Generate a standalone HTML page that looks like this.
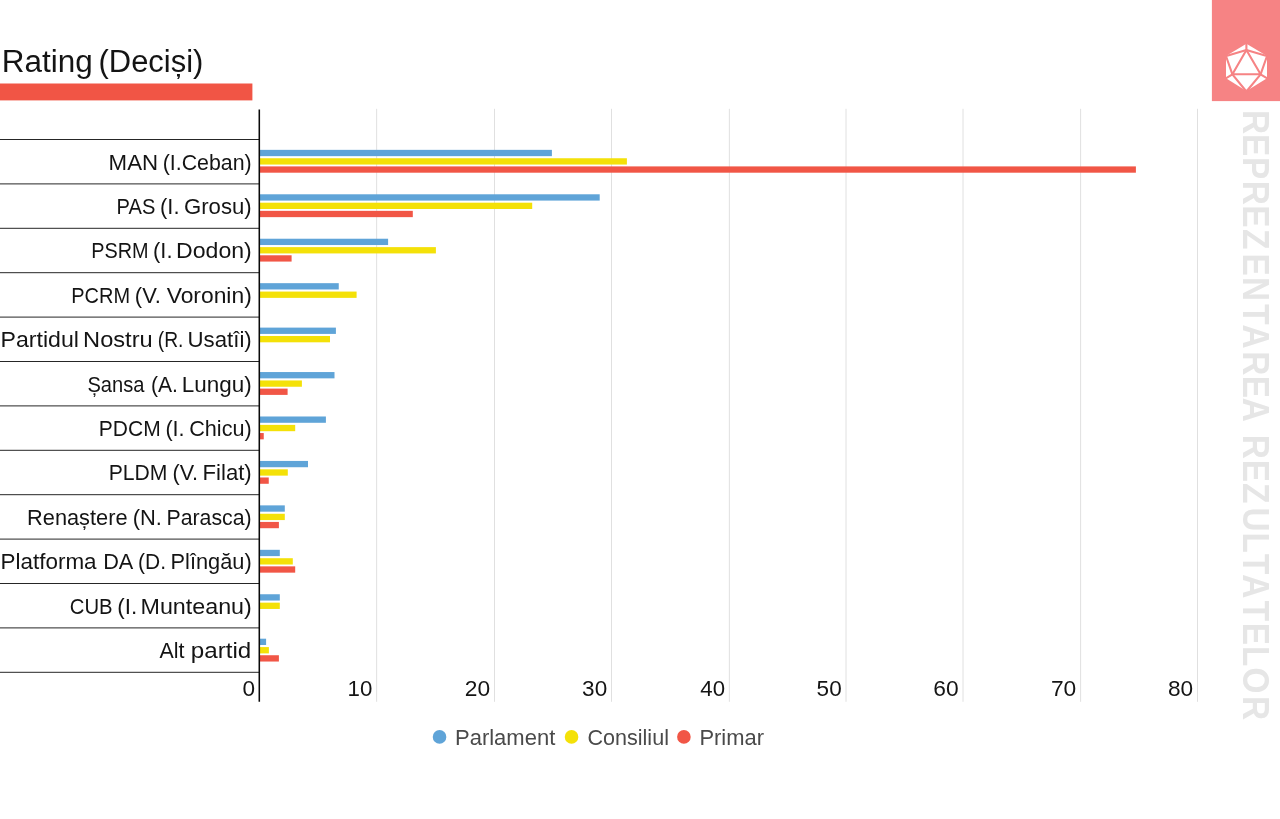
<!DOCTYPE html>
<html lang="ro">
<head>
<meta charset="utf-8">
<title>Rating (Deciși)</title>
<style>
html,body{margin:0;padding:0;background:#fff;}
body{width:1280px;height:819px;overflow:hidden;font-family:"Liberation Sans",sans-serif;}
svg{display:block;}
text{font-family:"Liberation Sans",sans-serif;}
</style>
</head>
<body>
<svg width="1280" height="819" viewBox="0 0 1280 819">
<rect x="0" y="0" width="1280" height="819" fill="#ffffff"/>
<rect x="0" y="83.5" width="252.4" height="16.9" fill="#F15545"/>
<rect x="1211.9" y="0" width="68.1" height="101.1" fill="#F68384"/>
<g>
<polygon points="1246.4,43.8 1267,56 1267,78.2 1246.4,90.9 1226,78.2 1226,56" fill="#ffffff"/>
<g stroke="#F68384" stroke-width="2.1" fill="none" stroke-linecap="butt" stroke-linejoin="round">
<polygon points="1246.4,50 1260.6,74.3 1232.4,74.3"/>
<path d="M1246.4,50 L1246.4,43 M1246.4,50 L1225.4,56.2 M1246.4,50 L1267.6,56.2 M1232.4,74.3 L1225.8,55.5 M1232.4,74.3 L1225.4,78.6 M1232.4,74.3 L1246.4,91.5 M1260.6,74.3 L1267.2,55.5 M1260.6,74.3 L1267.6,78.6 M1260.6,74.3 L1246.4,91.5"/>
</g>
</g>
<text transform="translate(1242.5,0) rotate(90) scale(0.92,1)" x="119.7 145.7 170.7 196.6 223.1 248.9 275.5 301.2 330.8 352.6 381.8 408.3 432.4 462.0 472.5 499.6 525.1 551.6 578.8 602.1 624.1 653.0 676.9 702.1 725.6 756.5" y="0" font-size="36.3" font-weight="bold" fill="#e6e6e6">REPREZENTAREA REZULTATELOR</text>
<line x1="376.65" y1="108.8" x2="376.65" y2="701.8" stroke="#e0e0e0" stroke-width="1"/>
<line x1="494.50" y1="108.8" x2="494.50" y2="701.8" stroke="#e0e0e0" stroke-width="1"/>
<line x1="611.50" y1="108.8" x2="611.50" y2="701.8" stroke="#e0e0e0" stroke-width="1"/>
<line x1="729.35" y1="108.8" x2="729.35" y2="701.8" stroke="#e0e0e0" stroke-width="1"/>
<line x1="846.00" y1="108.8" x2="846.00" y2="701.8" stroke="#e0e0e0" stroke-width="1"/>
<line x1="963.00" y1="108.8" x2="963.00" y2="701.8" stroke="#e0e0e0" stroke-width="1"/>
<line x1="1080.60" y1="108.8" x2="1080.60" y2="701.8" stroke="#e0e0e0" stroke-width="1"/>
<line x1="1197.50" y1="108.8" x2="1197.50" y2="701.8" stroke="#e0e0e0" stroke-width="1"/>
<line x1="0" y1="139.50" x2="259.3" y2="139.50" stroke="#262626" stroke-width="1"/>
<line x1="0" y1="183.90" x2="259.3" y2="183.90" stroke="#262626" stroke-width="1"/>
<line x1="0" y1="228.30" x2="259.3" y2="228.30" stroke="#262626" stroke-width="1"/>
<line x1="0" y1="272.70" x2="259.3" y2="272.70" stroke="#262626" stroke-width="1"/>
<line x1="0" y1="317.10" x2="259.3" y2="317.10" stroke="#262626" stroke-width="1"/>
<line x1="0" y1="361.50" x2="259.3" y2="361.50" stroke="#262626" stroke-width="1"/>
<line x1="0" y1="405.90" x2="259.3" y2="405.90" stroke="#262626" stroke-width="1"/>
<line x1="0" y1="450.30" x2="259.3" y2="450.30" stroke="#262626" stroke-width="1"/>
<line x1="0" y1="494.70" x2="259.3" y2="494.70" stroke="#262626" stroke-width="1"/>
<line x1="0" y1="539.10" x2="259.3" y2="539.10" stroke="#262626" stroke-width="1"/>
<line x1="0" y1="583.50" x2="259.3" y2="583.50" stroke="#262626" stroke-width="1"/>
<line x1="0" y1="627.90" x2="259.3" y2="627.90" stroke="#262626" stroke-width="1"/>
<line x1="0" y1="672.30" x2="259.3" y2="672.30" stroke="#262626" stroke-width="1"/>
<rect x="260" y="149.85" width="291.90" height="6.3" fill="#5FA4D8"/>
<rect x="260" y="158.25" width="366.90" height="6.3" fill="#F4E108"/>
<rect x="260" y="166.40" width="875.90" height="6.3" fill="#F15646"/>
<rect x="260" y="194.29" width="339.70" height="6.3" fill="#5FA4D8"/>
<rect x="260" y="202.69" width="272.20" height="6.3" fill="#F4E108"/>
<rect x="260" y="210.84" width="152.80" height="6.3" fill="#F15646"/>
<rect x="260" y="238.73" width="128.10" height="6.3" fill="#5FA4D8"/>
<rect x="260" y="247.13" width="175.90" height="6.3" fill="#F4E108"/>
<rect x="260" y="255.28" width="31.60" height="6.3" fill="#F15646"/>
<rect x="260" y="283.17" width="78.75" height="6.3" fill="#5FA4D8"/>
<rect x="260" y="291.57" width="96.60" height="6.3" fill="#F4E108"/>
<rect x="260" y="327.61" width="75.90" height="6.3" fill="#5FA4D8"/>
<rect x="260" y="336.01" width="70.00" height="6.3" fill="#F4E108"/>
<rect x="260" y="372.05" width="74.50" height="6.3" fill="#5FA4D8"/>
<rect x="260" y="380.45" width="41.90" height="6.3" fill="#F4E108"/>
<rect x="260" y="388.60" width="27.60" height="6.3" fill="#F15646"/>
<rect x="260" y="416.49" width="65.90" height="6.3" fill="#5FA4D8"/>
<rect x="260" y="424.89" width="35.20" height="6.3" fill="#F4E108"/>
<rect x="260" y="433.04" width="3.75" height="6.3" fill="#F15646"/>
<rect x="260" y="460.93" width="48.00" height="6.3" fill="#5FA4D8"/>
<rect x="260" y="469.33" width="27.80" height="6.3" fill="#F4E108"/>
<rect x="260" y="477.48" width="8.75" height="6.3" fill="#F15646"/>
<rect x="260" y="505.37" width="24.80" height="6.3" fill="#5FA4D8"/>
<rect x="260" y="513.77" width="24.80" height="6.3" fill="#F4E108"/>
<rect x="260" y="521.92" width="18.90" height="6.3" fill="#F15646"/>
<rect x="260" y="549.81" width="19.80" height="6.3" fill="#5FA4D8"/>
<rect x="260" y="558.21" width="32.80" height="6.3" fill="#F4E108"/>
<rect x="260" y="566.36" width="35.20" height="6.3" fill="#F15646"/>
<rect x="260" y="594.25" width="19.80" height="6.3" fill="#5FA4D8"/>
<rect x="260" y="602.65" width="19.80" height="6.3" fill="#F4E108"/>
<rect x="260" y="638.69" width="6.10" height="6.3" fill="#5FA4D8"/>
<rect x="260" y="647.09" width="8.90" height="6.3" fill="#F4E108"/>
<rect x="260" y="655.24" width="18.90" height="6.3" fill="#F15646"/>
<line x1="259.3" y1="109.4" x2="259.3" y2="701.8" stroke="#0a0a0a" stroke-width="1.55"/>
<circle cx="439.55" cy="736.9" r="6.8" fill="#5FA4D8"/>
<circle cx="571.55" cy="736.9" r="6.8" fill="#F4E108"/>
<circle cx="683.9" cy="736.9" r="6.8" fill="#F15646"/>
<text y="71.80" font-size="30.6" fill="#141414"><tspan x="1.85" textLength="90.91" lengthAdjust="spacingAndGlyphs">Rating</tspan> <tspan x="98.49" textLength="104.91" lengthAdjust="spacingAndGlyphs">(Deciși)</tspan></text>
<text y="169.65" font-size="22.0" fill="#141414"><tspan x="108.60" textLength="49.46" lengthAdjust="spacingAndGlyphs">MAN</tspan> <tspan x="162.76" textLength="88.92" lengthAdjust="spacingAndGlyphs">(I.Ceban)</tspan></text>
<text y="214.05" font-size="22.0" fill="#141414"><tspan x="116.62" textLength="38.69" lengthAdjust="spacingAndGlyphs">PAS</tspan> <tspan x="160.05" textLength="19.46" lengthAdjust="spacingAndGlyphs">(I.</tspan> <tspan x="184.03" textLength="67.71" lengthAdjust="spacingAndGlyphs">Grosu)</tspan></text>
<text y="258.45" font-size="22.0" fill="#141414"><tspan x="91.25" textLength="57.33" lengthAdjust="spacingAndGlyphs">PSRM</tspan> <tspan x="153.03" textLength="19.46" lengthAdjust="spacingAndGlyphs">(I.</tspan> <tspan x="176.02" textLength="75.77" lengthAdjust="spacingAndGlyphs">Dodon)</tspan></text>
<text y="302.85" font-size="22.0" fill="#141414"><tspan x="71.22" textLength="58.80" lengthAdjust="spacingAndGlyphs">PCRM</tspan> <tspan x="134.86" textLength="26.07" lengthAdjust="spacingAndGlyphs">(V.</tspan> <tspan x="166.67" textLength="85.11" lengthAdjust="spacingAndGlyphs">Voronin)</tspan></text>
<text y="347.25" font-size="22.0" fill="#141414"><tspan x="0.58" textLength="78.36" lengthAdjust="spacingAndGlyphs">Partidul</tspan> <tspan x="83.10" textLength="69.55" lengthAdjust="spacingAndGlyphs">Nostru</tspan> <tspan x="157.73" textLength="25.65" lengthAdjust="spacingAndGlyphs">(R.</tspan> <tspan x="187.55" textLength="64.19" lengthAdjust="spacingAndGlyphs">Usatîi)</tspan></text>
<text y="391.65" font-size="22.0" fill="#141414"><tspan x="87.42" textLength="57.05" lengthAdjust="spacingAndGlyphs">Șansa</tspan> <tspan x="151.01" textLength="26.97" lengthAdjust="spacingAndGlyphs">(A.</tspan> <tspan x="181.85" textLength="69.90" lengthAdjust="spacingAndGlyphs">Lungu)</tspan></text>
<text y="436.05" font-size="22.0" fill="#141414"><tspan x="98.79" textLength="61.86" lengthAdjust="spacingAndGlyphs">PDCM</tspan> <tspan x="165.43" textLength="19.21" lengthAdjust="spacingAndGlyphs">(I.</tspan> <tspan x="189.20" textLength="62.50" lengthAdjust="spacingAndGlyphs">Chicu)</tspan></text>
<text y="480.45" font-size="22.0" fill="#141414"><tspan x="108.69" textLength="58.79" lengthAdjust="spacingAndGlyphs">PLDM</tspan> <tspan x="172.45" textLength="25.60" lengthAdjust="spacingAndGlyphs">(V.</tspan> <tspan x="202.52" textLength="49.22" lengthAdjust="spacingAndGlyphs">Filat)</tspan></text>
<text y="524.85" font-size="22.0" fill="#141414"><tspan x="27.11" textLength="100.38" lengthAdjust="spacingAndGlyphs">Renaștere</tspan> <tspan x="132.80" textLength="29.15" lengthAdjust="spacingAndGlyphs">(N.</tspan> <tspan x="166.47" textLength="85.21" lengthAdjust="spacingAndGlyphs">Parasca)</tspan></text>
<text y="569.25" font-size="22.0" fill="#141414"><tspan x="0.64" textLength="95.96" lengthAdjust="spacingAndGlyphs">Platforma</tspan> <tspan x="103.14" textLength="29.00" lengthAdjust="spacingAndGlyphs">DA</tspan> <tspan x="138.02" textLength="27.99" lengthAdjust="spacingAndGlyphs">(D.</tspan> <tspan x="170.56" textLength="81.16" lengthAdjust="spacingAndGlyphs">Plîngău)</tspan></text>
<text y="613.65" font-size="22.0" fill="#141414"><tspan x="69.77" textLength="42.76" lengthAdjust="spacingAndGlyphs">CUB</tspan> <tspan x="117.29" textLength="19.95" lengthAdjust="spacingAndGlyphs">(I.</tspan> <tspan x="140.51" textLength="111.30" lengthAdjust="spacingAndGlyphs">Munteanu)</tspan></text>
<text y="658.05" font-size="22.0" fill="#141414"><tspan x="159.50" textLength="24.97" lengthAdjust="spacingAndGlyphs">Alt</tspan> <tspan x="190.80" textLength="60.50" lengthAdjust="spacingAndGlyphs">partid</tspan></text>
<text y="695.70" font-size="21.4" fill="#141414"><tspan x="242.62" textLength="12.57" lengthAdjust="spacingAndGlyphs">0</tspan></text>
<text y="695.70" font-size="21.4" fill="#141414"><tspan x="347.55" textLength="24.77" lengthAdjust="spacingAndGlyphs">10</tspan></text>
<text y="695.70" font-size="21.4" fill="#141414"><tspan x="464.85" textLength="25.34" lengthAdjust="spacingAndGlyphs">20</tspan></text>
<text y="695.70" font-size="21.4" fill="#141414"><tspan x="582.14" textLength="25.04" lengthAdjust="spacingAndGlyphs">30</tspan></text>
<text y="695.70" font-size="21.4" fill="#141414"><tspan x="700.34" textLength="24.68" lengthAdjust="spacingAndGlyphs">40</tspan></text>
<text y="695.70" font-size="21.4" fill="#141414"><tspan x="816.60" textLength="25.08" lengthAdjust="spacingAndGlyphs">50</tspan></text>
<text y="695.70" font-size="21.4" fill="#141414"><tspan x="933.34" textLength="25.35" lengthAdjust="spacingAndGlyphs">60</tspan></text>
<text y="695.70" font-size="21.4" fill="#141414"><tspan x="1050.93" textLength="25.36" lengthAdjust="spacingAndGlyphs">70</tspan></text>
<text y="695.70" font-size="21.4" fill="#141414"><tspan x="1168.02" textLength="25.17" lengthAdjust="spacingAndGlyphs">80</tspan></text>
<text y="744.80" font-size="22.5" fill="#4a4a4a"><tspan x="455.00" textLength="100.27" lengthAdjust="spacingAndGlyphs">Parlament</tspan></text>
<text y="744.80" font-size="22.5" fill="#4a4a4a"><tspan x="587.51" textLength="81.44" lengthAdjust="spacingAndGlyphs">Consiliul</tspan></text>
<text y="744.80" font-size="22.5" fill="#4a4a4a"><tspan x="699.40" textLength="64.56" lengthAdjust="spacingAndGlyphs">Primar</tspan></text>
</svg>
</body>
</html>
